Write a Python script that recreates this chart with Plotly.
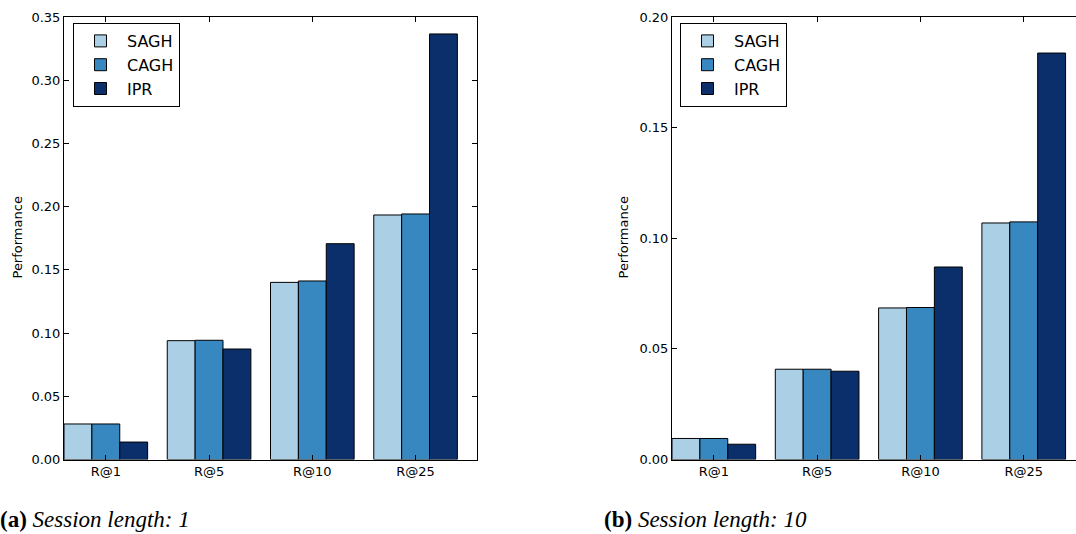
import plotly.graph_objects as go

categories = ["R@1", "R@5", "R@10", "R@25"]
methods = ["SAGH", "CAGH", "IPR"]

# Session length: 1
sagh_1 = [0.0281, 0.0940, 0.1401, 0.1934]
cagh_1 = [0.0281, 0.0943, 0.1412, 0.1942]
ipr_1 = [0.0138, 0.0874, 0.1707, 0.3366]

# Session length: 10
sagh_10 = [0.0095, 0.0408, 0.0685, 0.1069]
cagh_10 = [0.0095, 0.0408, 0.0687, 0.1074]
ipr_10 = [0.0069, 0.0399, 0.0870, 0.1837]

colors = ["#abd0e6", "#3787c0", "#0a2f6a"]
W, H = 1076, 534
BAR_W = 0.27
START = -0.405

fig = go.Figure()

def add_series(values_list, xa, ya, legend, show):
    for k, (name, vals) in enumerate(zip(methods, values_list)):
        fig.add_trace(go.Bar(
            x=categories, y=vals, name=name,
            width=BAR_W, offset=START + k * BAR_W,
            marker=dict(color=colors[k], line=dict(color="black", width=1)),
            xaxis=xa, yaxis=ya, legend=legend, showlegend=show,
        ))

add_series([sagh_1, cagh_1, ipr_1], "x", "y", "legend", True)
add_series([sagh_10, cagh_10, ipr_10], "x2", "y2", "legend2", True)

tick_font = dict(family="DejaVu Sans", size=13, color="black")
ydom = [1 - 459.5 / H, 1 - 17 / H]

common_x = dict(
    type="category", categoryorder="array", categoryarray=categories,
    showline=True, linecolor="black", linewidth=1,
    ticks="inside", ticklen=5, tickcolor="black", mirror="ticks",
    showgrid=False, zeroline=False, tickfont=tick_font, fixedrange=True,
    automargin=False,
)
common_y = dict(
    showline=True, linecolor="black", linewidth=1,
    ticks="inside", ticklen=5, tickcolor="black",
    showgrid=False, zeroline=False, tickfont=tick_font,
    dtick=0.05, tickformat=".2f", domain=ydom, automargin=False,
)

right_end = (W - 672) / 103.3

legend_style = dict(
    xanchor="left", yanchor="top",
    bgcolor="white", bordercolor="black", borderwidth=1,
    font=dict(family="DejaVu Sans", size=16, color="black"),
    tracegroupgap=0, itemwidth=43,
)

fig.update_layout(
    width=W, height=H,
    margin=dict(l=0, r=0, t=0, b=0, autoexpand=False),
    paper_bgcolor="white", plot_bgcolor="white",
    barmode="overlay",
    xaxis=dict(common_x, domain=[64 / W, 477 / W], range=[START, START + 4], anchor="y"),
    yaxis=dict(common_y, range=[0, 0.35], mirror="ticks", anchor="x"),
    xaxis2=dict(common_x, domain=[672 / W, 1.0], range=[START, START + right_end], anchor="y2"),
    yaxis2=dict(common_y, range=[0, 0.20], mirror=False, anchor="x2"),
    legend=dict(legend_style, x=73 / W, y=1 - 23 / H),
    legend2=dict(legend_style, x=680 / W, y=1 - 23 / H),
    font=dict(family="DejaVu Sans", color="black"),
)

annotations = [
    dict(text="Performance", x=16.5 / W, y=1 - 238 / H, xref="paper", yref="paper",
         textangle=-90, showarrow=False, xanchor="center", yanchor="middle",
         font=dict(family="DejaVu Sans", size=13, color="black")),
    dict(text="Performance", x=622.5 / W, y=1 - 238 / H, xref="paper", yref="paper",
         textangle=-90, showarrow=False, xanchor="center", yanchor="middle",
         font=dict(family="DejaVu Sans", size=13, color="black")),
    dict(text="<b>(a)</b> <i>Session length: 1</i>", x=-2 / W, y=1 - 519 / H,
         xref="paper", yref="paper", showarrow=False, xanchor="left", yanchor="middle",
         font=dict(family="Liberation Serif", size=23, color="black")),
    dict(text="<b>(b)</b> <i>Session length: 10</i>", x=602 / W, y=1 - 519 / H,
         xref="paper", yref="paper", showarrow=False, xanchor="left", yanchor="middle",
         font=dict(family="Liberation Serif", size=23, color="black")),
]
fig.update_layout(annotations=annotations)

fig.write_html("out.html")
